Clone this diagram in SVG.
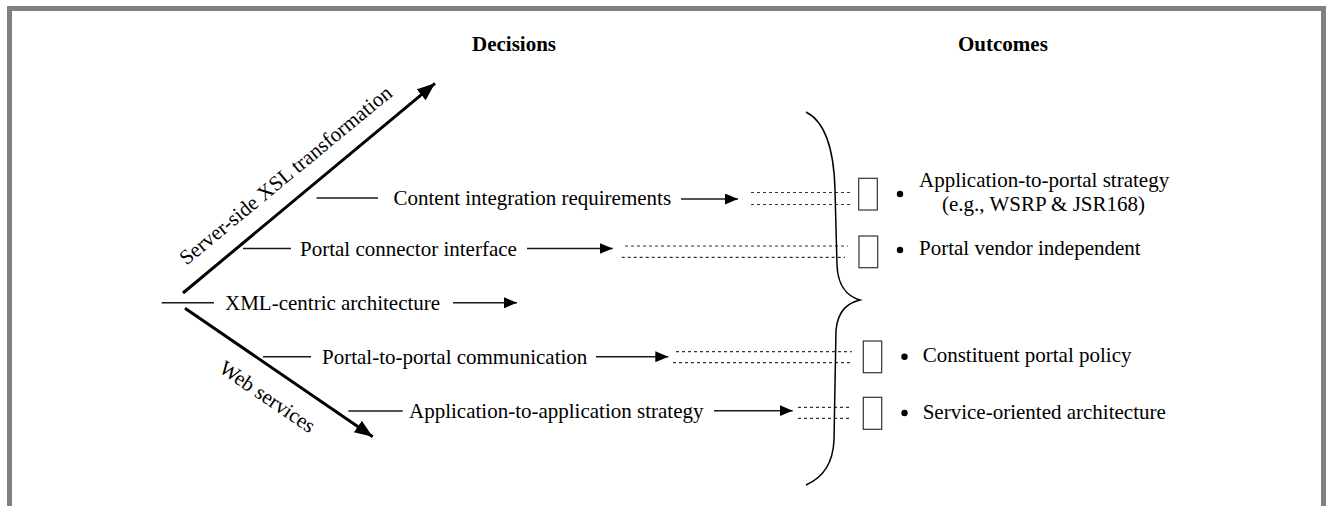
<svg xmlns="http://www.w3.org/2000/svg" width="1326" height="506" viewBox="0 0 1326 506">
<style>
text{font-family:"Liberation Serif","Times New Roman",serif;font-size:21px;fill:#000}
.h{font-weight:bold}
.ln{stroke:#1a1a1a;stroke-width:1.6;fill:none}
.thick{stroke:#000;stroke-width:3;fill:none}
.dot{stroke:#333;stroke-width:1.2;stroke-dasharray:3 3;fill:none}
.box{fill:#fff;stroke:#333;stroke-width:1.2}
.brace{fill:none;stroke:#000;stroke-width:1.5}
</style>
<defs>
<marker id="big" markerUnits="userSpaceOnUse" markerWidth="20" markerHeight="16" refX="18" refY="7" orient="auto"><path d="M0,0 L18,7 L0,14 z" fill="#000"/></marker>
<marker id="sm" markerUnits="userSpaceOnUse" markerWidth="14" markerHeight="12" refX="13" refY="5.5" orient="auto"><path d="M0,0 L13,5.5 L0,11 z" fill="#000"/></marker>
</defs>
<path d="M9.5,506 V8.5 H1323.5 V506" fill="none" stroke="#808080" stroke-width="5"/>
<text class="h" x="472" y="51">Decisions</text>
<text class="h" x="958" y="51">Outcomes</text>
<g id="connectors">
<line class="ln" x1="161.7" y1="302.7" x2="214" y2="302.7"/>
<line class="thick" x1="183" y1="293" x2="435" y2="83.3" marker-end="url(#big)"/>
<line class="thick" x1="185" y1="308.3" x2="372.7" y2="436.7" marker-end="url(#big)"/>
<line class="ln" x1="316.5" y1="198" x2="378" y2="198"/>
<line class="ln" x1="681" y1="199" x2="738" y2="199" marker-end="url(#sm)"/>
<line class="dot" x1="751" y1="192.5" x2="852" y2="192.5"/>
<line class="dot" x1="751" y1="204.5" x2="852" y2="204.5"/>
<line class="ln" x1="243" y1="248.5" x2="291" y2="248.5"/>
<line class="ln" x1="527" y1="248.5" x2="612.7" y2="248.5" marker-end="url(#sm)"/>
<line class="dot" x1="625" y1="246" x2="848" y2="246"/>
<line class="dot" x1="621.7" y1="257.3" x2="845" y2="257.3"/>
<line class="ln" x1="453" y1="302.7" x2="517" y2="302.7" marker-end="url(#sm)"/>
<line class="ln" x1="263" y1="356.7" x2="311" y2="356.7"/>
<line class="ln" x1="596" y1="356.7" x2="668.3" y2="356.7" marker-end="url(#sm)"/>
<line class="dot" x1="676" y1="351.7" x2="851.7" y2="351.7"/>
<line class="dot" x1="673" y1="362.7" x2="851.7" y2="362.7"/>
<line class="ln" x1="348.3" y1="411" x2="402.7" y2="411"/>
<line class="ln" x1="714" y1="410.7" x2="792.7" y2="410.7" marker-end="url(#sm)"/>
<line class="dot" x1="798" y1="407.3" x2="851.7" y2="407.3"/>
<line class="dot" x1="798" y1="418.3" x2="851.7" y2="418.3"/>
<path class="brace" d="M806,112 C826,122 834,150 835,190 L837,265 C838,290 850,297 860,300 C848,303 838,310 836,330 L834,440 C833,465 822,478 806,485"/>
</g>
<g id="label-xsl"><text x="290" y="180.5" text-anchor="middle" transform="rotate(-39.5 290 180.5)">Server-side XSL transformation</text></g>
<g id="label-ws"><text x="263.5" y="402.5" text-anchor="middle" transform="rotate(34.2 263.5 402.5)">Web services</text></g>
<g id="d-content"><text x="393.5" y="205">Content integration requirements</text></g>
<g id="d-connector"><text x="300" y="255.5">Portal connector interface</text></g>
<g id="d-xml"><text x="225" y="310">XML-centric architecture</text></g>
<g id="d-p2p"><text x="322" y="364">Portal-to-portal communication</text></g>
<g id="d-a2a"><text x="409" y="418">Application-to-application strategy</text></g>
<g id="o-1"><rect class="box" x="858.7" y="178.3" width="18.6" height="31.7"/><circle cx="900" cy="194" r="3.2"/><text x="919" y="187">Application-to-portal strategy</text><text x="942" y="210.5">(e.g., WSRP &amp; JSR168)</text></g>
<g id="o-2"><rect class="box" x="859" y="236" width="18.7" height="31.7"/><circle cx="900" cy="250" r="3.2"/><text x="919" y="254.5">Portal vendor independent</text></g>
<g id="o-3"><rect class="box" x="863.3" y="341" width="18.4" height="31.7"/><circle cx="904.5" cy="356.7" r="3.2"/><text x="922.7" y="362">Constituent portal policy</text></g>
<g id="o-4"><rect class="box" x="863.3" y="397.3" width="18.4" height="32"/><circle cx="904.5" cy="413" r="3.2"/><text x="922.7" y="418.5">Service-oriented architecture</text></g>
</svg>
